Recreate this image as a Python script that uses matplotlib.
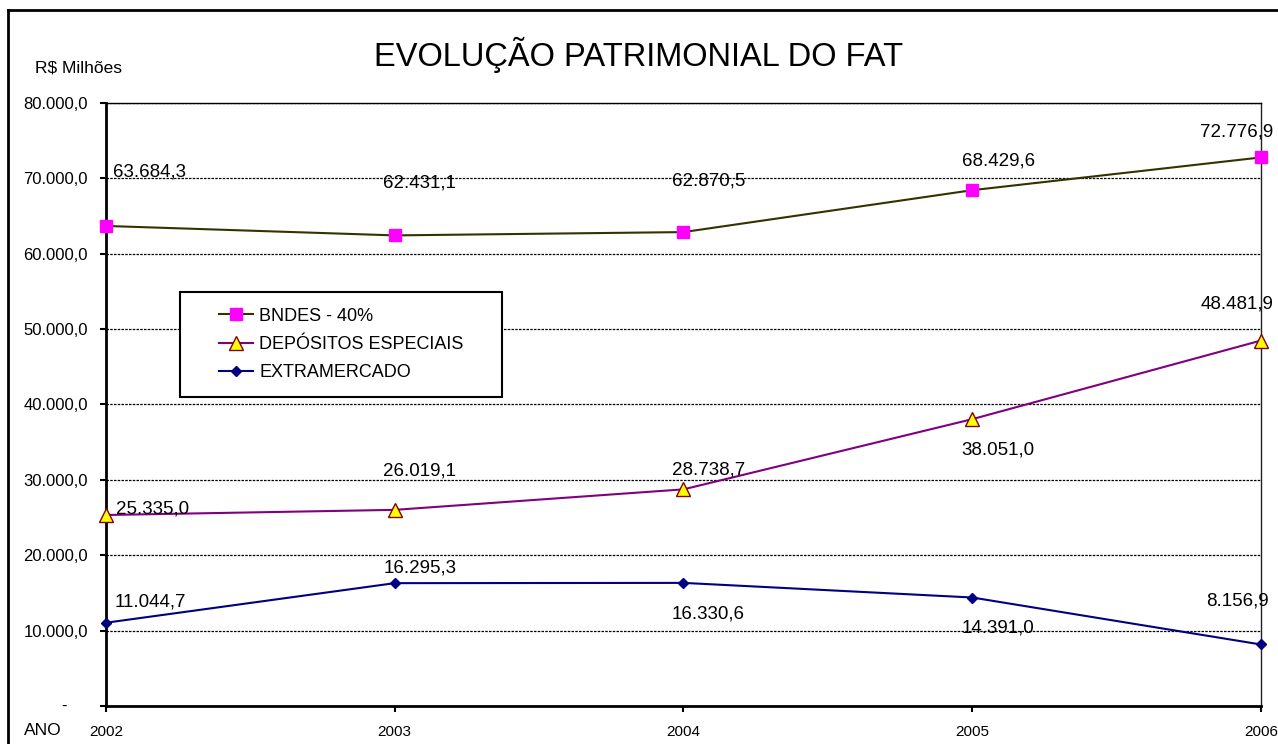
"""
Evolução patrimonial do FAT - line chart with three series.
"""

import matplotlib.pyplot as plt
from matplotlib.lines import Line2D
from matplotlib.patches import Rectangle

plt.rcParams["font.family"] = ["Liberation Sans", "DejaVu Sans"]

# ---------- data ----------

anos = [2002, 2003, 2004, 2005, 2006]
bndes = [63684.3, 62431.1, 62870.5, 68429.6, 72776.9]
depositos = [25335.0, 26019.1, 28738.7, 38051.0, 48481.9]
extramercado = [11044.7, 16295.3, 16330.6, 14391.0, 8156.9]

y_ticks = [0, 10000, 20000, 30000, 40000, 50000, 60000, 70000, 80000]
y_labels = ["", "10.000,0", "20.000,0", "30.000,0", "40.000,0",
            "50.000,0", "60.000,0", "70.000,0", "80.000,0"]

# label offsets in pixels (dx, dy) for each point
off_bndes = [(44, 54), (25, 52), (25, 51), (26, 29), (-24, 25)]
off_dep = [(47, 6), (25, 39), (25, 19), (26, -31), (-24, 37)]
off_extra = [(44, 21), (25, 15), (25, -31), (26, -30), (-24, 43)]


def fmt_br(v):
    """63684.3 -> '63.684,3'"""
    s = f"{v:,.1f}"
    return s.replace(",", "X").replace(".", ",").replace("X", ".")


fig = plt.figure(figsize=(12.78, 7.44), dpi=100)
ax = fig.add_axes([0.0829, 0.0511, 0.9038, 0.8105])

# outer frame of the chart (only top and left edges are visible)
fig.lines.append(Line2D([0.0065, 0.0065], [-0.01, 0.987], transform=fig.transFigure,
                        color="black", linewidth=2))
fig.lines.append(Line2D([0.0065, 1.01], [0.987, 0.987], transform=fig.transFigure,
                        color="black", linewidth=2))

ax.plot(anos, bndes, color="#333300", linewidth=1.5, marker="s",
        markersize=9, markerfacecolor="#FF00FF", markeredgecolor="#FF00FF",
        label="BNDES - 40%", clip_on=False, zorder=3)
ax.plot(anos, depositos, color="#800080", linewidth=1.5, marker="^",
        markersize=10, markerfacecolor="#FFFF00", markeredgecolor="#800000",
        label="DEPÓSITOS ESPECIAIS", clip_on=False, zorder=3)
ax.plot(anos, extramercado, color="#000080", linewidth=1.5, marker="D",
        markersize=5.5, markerfacecolor="#000080", markeredgecolor="#000080",
        label="EXTRAMERCADO", clip_on=False, zorder=3)

for values, offsets in [(bndes, off_bndes), (depositos, off_dep),
                        (extramercado, off_extra)]:
    for x, v, (dx, dy) in zip(anos, values, offsets):
        ax.annotate(fmt_br(v), (x, v), xytext=(dx, dy),
                    textcoords="offset pixels", ha="center", va="center",
                    fontsize=13.5, zorder=4)

ax.set_xlim(2002, 2006)
ax.set_ylim(0, 80000)
ax.set_xticks(anos)
ax.set_xticklabels([str(a) for a in anos], fontsize=11)
ax.set_yticks(y_ticks)
ax.set_yticklabels(y_labels, fontsize=12)
ax.tick_params(axis="y", direction="out", length=4.5, width=1.5, pad=8.5)
ax.tick_params(axis="x", direction="out", length=4.5, width=1.5, pad=9)
# zero label drawn as a dash, Excel style
ax.text(-0.036, 0, "-", transform=ax.get_yaxis_transform(), ha="center",
        va="center", fontsize=12)

ax.yaxis.grid(True, linestyle=(0, (2, 1)), color="black", linewidth=0.9)
ax.set_axisbelow(True)

ax.spines["left"].set_linewidth(2)
ax.spines["bottom"].set_linewidth(2)
ax.spines["right"].set_linewidth(1)
ax.spines["right"].set_color("#222222")
ax.spines["top"].set_linewidth(1)

# legend: frame drawn separately to get the wide side padding
ax.add_patch(Rectangle((0.064, 0.512), 0.2788, 0.175, transform=ax.transAxes,
                       facecolor="white", edgecolor="black", linewidth=1.5,
                       zorder=5))
leg = ax.legend(loc="center", bbox_to_anchor=(0.2035, 0.5995),
                fontsize=13, frameon=False, handlelength=1.9,
                handletextpad=0.35, labelspacing=0.62, borderpad=0)
leg.set_zorder(6)

fig.text(0.5, 0.926, "EVOLUÇÃO PATRIMONIAL DO FAT", ha="center",
         va="center", fontsize=23.5)
fig.text(0.027, 0.909, "R$ Milhões", ha="left", va="center", fontsize=12.5)
fig.text(0.019, 0.0175, "ANO", ha="left", va="center", fontsize=12.5)

plt.savefig("out.png", dpi=100)
